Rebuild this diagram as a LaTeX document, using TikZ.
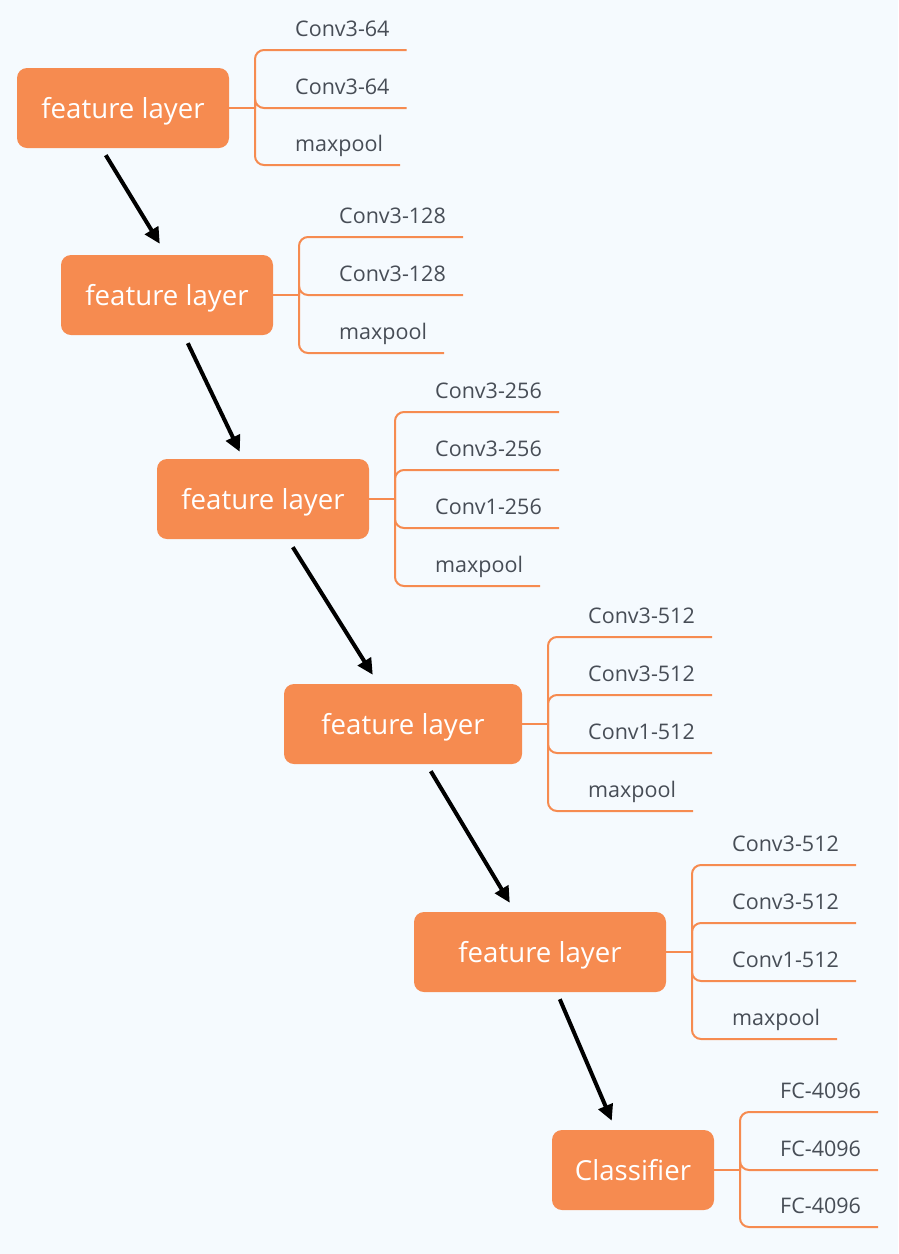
\documentclass[tikz,border=0pt]{standalone}
\usepackage{fontspec}
\setmainfont{Open Sans}
\usetikzlibrary{arrows.meta}
\definecolor{bg}{HTML}{F5FAFE}
\definecolor{org}{HTML}{F68B50}
\definecolor{txt}{HTML}{474D56}
\tikzset{
  box/.style={fill=org, rounded corners=10pt, minimum height=80pt, text=white, inner sep=0pt, text height=24pt, text depth=4pt, font=\fontsize{27.6}{32}\selectfont},
  lab/.style={anchor=base west, inner sep=0pt, text=txt, font=\fontsize{21.5}{25}\selectfont},
  br/.style={draw=org, line width=2pt, rounded corners=9pt},
  arr/.style={line width=4pt, -{Triangle[length=16pt,width=15pt]}}
}
\begin{document}
\begin{tikzpicture}[x=1pt,y=-1pt]
\fill[bg] (0,0) rectangle (898,1254);
\useasboundingbox (0,0) rectangle (898,1254);

% boxes
\node[box, minimum width=212pt] (b1) at (123,108) {feature layer};
\node[box, minimum width=212pt] (b2) at (167,295) {feature layer};
\node[box, minimum width=212pt] (b3) at (263,499) {feature layer};
\node[box, minimum width=238pt] (b4) at (403,724) {feature layer};
\node[box, minimum width=252pt] (b5) at (540,952) {feature layer};
\node[box, minimum width=162pt] (b6) at (633,1170) {Classifier};

% branches block 1
\coordinate (j1) at (255,108);
\draw[br] (b1.east) -- (j1);
\foreach \t/\y/\n in {Conv3-64/50/a, Conv3-64/108/b, maxpool/165/c}{
  \node[lab] (l1\n) at (295,\y-14) {\t};
  \draw[br] (j1) |- ([xshift=17pt,yshift=-14pt]l1\n.base east);
}
% block 2
\coordinate (j2) at (299,295);
\draw[br] (b2.east) -- (j2);
\foreach \t/\y/\n in {Conv3-128/237/a, Conv3-128/295/b, maxpool/353/c}{
  \node[lab] (l2\n) at (339,\y-14) {\t};
  \draw[br] (j2) |- ([xshift=17pt,yshift=-14pt]l2\n.base east);
}
% block 3
\coordinate (j3) at (395,499);
\draw[br] (b3.east) -- (j3);
\foreach \t/\y/\n in {Conv3-256/412/a, Conv3-256/470/b, Conv1-256/528/c, maxpool/586/d}{
  \node[lab] (l3\n) at (435,\y-14) {\t};
  \draw[br] (j3) |- ([xshift=17pt,yshift=-14pt]l3\n.base east);
}
% block 4
\coordinate (j4) at (548,724);
\draw[br] (b4.east) -- (j4);
\foreach \t/\y/\n in {Conv3-512/637/a, Conv3-512/695/b, Conv1-512/753/c, maxpool/811/d}{
  \node[lab] (l4\n) at (588,\y-14) {\t};
  \draw[br] (j4) |- ([xshift=17pt,yshift=-14pt]l4\n.base east);
}
% block 5
\coordinate (j5) at (692,952);
\draw[br] (b5.east) -- (j5);
\foreach \t/\y/\n in {Conv3-512/865/a, Conv3-512/923/b, Conv1-512/981/c, maxpool/1039/d}{
  \node[lab] (l5\n) at (732,\y-14) {\t};
  \draw[br] (j5) |- ([xshift=17pt,yshift=-14pt]l5\n.base east);
}
% block 6
\coordinate (j6) at (740,1170);
\draw[br] (b6.east) -- (j6);
\foreach \t/\y/\n in {FC-4096/1112/a, FC-4096/1170/b, FC-4096/1227/c}{
  \node[lab] (l6\n) at (780,\y-14) {\t};
  \draw[br] (j6) |- ([xshift=17pt,yshift=-14pt]l6\n.base east);
}

% arrows
\draw[arr] ([xshift=89pt,yshift=-7pt]b1.south west) -- ([xshift=99pt,yshift=11pt]b2.north west);
\draw[arr] ([xshift=127pt,yshift=-8pt]b2.south west) -- ([xshift=83pt,yshift=7pt]b3.north west);
\draw[arr] ([xshift=136pt,yshift=-8pt]b3.south west) -- ([xshift=89pt,yshift=9pt]b4.north west);
\draw[arr] ([xshift=147pt,yshift=-7pt]b4.south west) -- ([xshift=96pt,yshift=9pt]b5.north west);
\draw[arr] ([xshift=146pt,yshift=-7pt]b5.south west) -- ([xshift=60pt,yshift=9pt]b6.north west);
\end{tikzpicture}
\end{document}
